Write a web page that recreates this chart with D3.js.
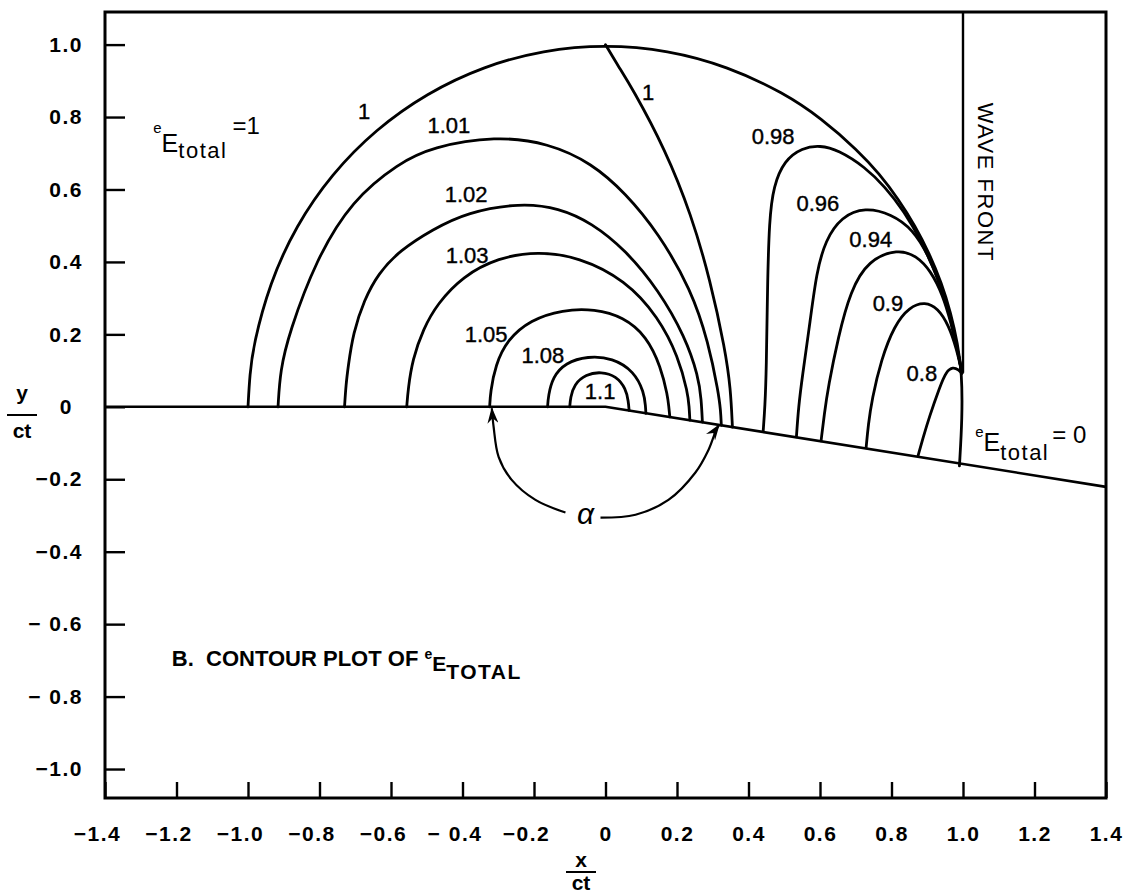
<!DOCTYPE html>
<html><head><meta charset="utf-8">
<script src="https://cdn.jsdelivr.net/npm/d3@7"></script>
<style>
html,body{margin:0;padding:0;background:#fff;}
svg{display:block;}
text{font-family:"Liberation Sans",Arial,Helvetica,sans-serif;fill:#000;}
</style></head><body>
<svg id="chart" width="1126" height="895"></svg>
<script>
// ---------- tick values and labels ----------
const xTickValues = [-1.4,-1.2,-1.0,-0.8,-0.6,-0.4,-0.2,0,0.2,0.4,0.6,0.8,1.0,1.2,1.4];
const xTickLabels = ["\u22121.4","\u22121.2","\u22121.0","\u22120.8","\u22120.6","\u2212 0.4","\u22120.2","0","0.2","0.4","0.6","0.8","1.0","1.2","1.4"];
const yTickValues = [1.0,0.8,0.6,0.4,0.2,0,-0.2,-0.4,-0.6,-0.8,-1.0];
const yTickLabels = ["1.0","0.8","0.6","0.4","0.2","0","\u22120.2","\u22120.4","\u2212 0.6","\u2212 0.8","\u22121.0"];

// ---------- contour lines (x/ct, y/ct) ----------
const outerArc = [[-1.0,0],[-0.995,0.09],[-0.985,0.17],[-0.94,0.34],[-0.866,0.5],[-0.766,0.643],[-0.643,0.766],[-0.5,0.866],[-0.342,0.94],[-0.174,0.985],[0,1.0],[0.174,0.985],[0.342,0.94],[0.5,0.866],[0.603,0.797],[0.707,0.707],[0.766,0.643],[0.819,0.574],[0.866,0.5],[0.906,0.423],[0.94,0.342],[0.966,0.259],[0.985,0.174],[0.997,0.094],[0.998,-0.03],[0.99,-0.163]];
const line100 = [[0,1.0],[0.036,0.94],[0.073,0.883],[0.168,0.709],[0.24,0.53],[0.293,0.35],[0.335,0.157],[0.35,0.05],[0.355,-0.056]];
const c101 = [[-0.916,0],[-0.91,0.1],[-0.885,0.204],[-0.810,0.406],[-0.709,0.571],[-0.578,0.673],[-0.486,0.717],[-0.307,0.748],[-0.159,0.728],[-0.039,0.673],[0.056,0.590],[0.148,0.480],[0.240,0.323],[0.288,0.177],[0.316,0.039],[0.322,-0.01],[0.324,-0.051]];
const c102 = [[-0.730,0],[-0.726,0.06],[-0.720,0.110],[-0.706,0.204],[-0.675,0.295],[-0.636,0.368],[-0.575,0.432],[-0.483,0.490],[-0.387,0.537],[-0.239,0.563],[-0.13,0.549],[-0.039,0.508],[0.056,0.433],[0.148,0.323],[0.223,0.193],[0.260,0.083],[0.268,0.02],[0.271,-0.042]];
const c103 = [[-0.556,0],[-0.552,0.05],[-0.540,0.130],[-0.510,0.215],[-0.470,0.285],[-0.400,0.360],[-0.300,0.412],[-0.190,0.429],[-0.075,0.414],[0.056,0.350],[0.148,0.248],[0.204,0.138],[0.230,0.039],[0.234,0.0],[0.236,-0.037]];
const c105 = [[-0.324,0],[-0.322,0.04],[-0.308,0.115],[-0.275,0.185],[-0.210,0.240],[-0.120,0.268],[-0.030,0.270],[0.050,0.248],[0.115,0.195],[0.155,0.110],[0.174,0.030],[0.177,0.0],[0.180,-0.028]];
const c108 = [[-0.162,0],[-0.160,0.03],[-0.148,0.082],[-0.112,0.122],[-0.050,0.140],[0.020,0.135],[0.080,0.098],[0.108,0.040],[0.112,0.0],[0.113,-0.018]];
const c110 = [[-0.100,0],[-0.098,0.025],[-0.088,0.062],[-0.055,0.090],[-0.012,0.097],[0.030,0.085],[0.057,0.050],[0.064,0.015],[0.066,-0.010]];
const c098 = [[0.441,-0.068],[0.446,0.0],[0.450,0.100],[0.453,0.331],[0.458,0.516],[0.470,0.610],[0.500,0.680],[0.550,0.715],[0.600,0.722],[0.651,0.709],[0.726,0.662],[0.782,0.607],[0.835,0.54],[0.885,0.455],[0.93,0.355],[0.962,0.26],[0.983,0.168],[0.997,0.094]];
const c096 = [[0.534,-0.083],[0.540,0.0],[0.550,0.080],[0.573,0.240],[0.590,0.370],[0.615,0.460],[0.660,0.525],[0.726,0.551],[0.80,0.532],[0.86,0.49],[0.905,0.415],[0.94,0.33],[0.965,0.245],[0.984,0.16],[0.997,0.094]];
const c094 = [[0.603,-0.094],[0.612,-0.02],[0.623,0.055],[0.651,0.193],[0.685,0.320],[0.735,0.405],[0.818,0.436],[0.87,0.417],[0.91,0.375],[0.943,0.31],[0.967,0.23],[0.985,0.155],[0.997,0.094]];
const c090 = [[0.729,-0.113],[0.735,-0.05],[0.745,0.020],[0.771,0.130],[0.808,0.225],[0.850,0.276],[0.894,0.290],[0.93,0.272],[0.96,0.225],[0.982,0.16],[0.997,0.094]];
const c080 = [[0.874,-0.136],[0.890,-0.08],[0.905,-0.03],[0.935,0.055],[0.953,0.098],[0.972,0.110],[0.988,0.102],[0.997,0.092]];

// boundary, wave front, alpha arc
const boundary = [[-1.4,0],[0,0],[1.4,-0.221]];
const waveFront = [[1.0,1.09],[1.0,0.094]];
const alphaLeft = [[-0.112,-0.292],[-0.196,-0.257],[-0.263,-0.201],[-0.299,-0.138],[-0.313,-0.055],[-0.318,-0.004]];
const alphaRight = [[-0.014,-0.306],[0.084,-0.298],[0.176,-0.257],[0.251,-0.182],[0.288,-0.119],[0.310,-0.063],[0.318,-0.050]];

// contour labels
const labelText = ["1","1.01","1.02","1.03","1.05","1.08","1.1","1","0.98","0.96","0.94","0.9","0.8"];
const labelX = [-0.675,-0.438,-0.390,-0.387,-0.334,-0.175,-0.015,0.119,0.469,0.594,0.742,0.790,0.885];
const labelY = [0.814,0.778,0.585,0.419,0.201,0.143,0.041,0.869,0.745,0.560,0.461,0.284,0.093];

// ---------- drawing ----------
const svg = d3.select("#chart");
const x = d3.scaleLinear().domain([-1.4,1.4]).range([105,1106]);
const y = d3.scaleLinear().domain([-1.08,1.09]).range([798,12]);

const smooth = d3.line().x(d=>x(d[0])).y(d=>y(d[1])).curve(d3.curveBasis);
const arcLine = d3.line().x(d=>x(d[0])).y(d=>y(d[1])).curve(d3.curveCatmullRom.alpha(0.5));
const straight = d3.line().x(d=>x(d[0])).y(d=>y(d[1]));

// arrow marker
svg.append("defs").append("marker")
  .attr("id","arrow").attr("viewBox","0 0 16 11").attr("refX",15).attr("refY",5.5)
  .attr("markerWidth",16).attr("markerHeight",11).attr("markerUnits","userSpaceOnUse")
  .attr("orient","auto")
  .append("path").attr("d","M0,0 L16,5.5 L0,11 L5,5.5 Z").attr("fill","#000");

const tickFont = "'Liberation Sans',Arial,sans-serif";
// axes
const xAxis = d3.axisBottom(x).tickValues(xTickValues).tickSize(-16).tickPadding(28)
  .tickFormat((d,i)=>xTickLabels[i]);
const gx = svg.append("g").attr("transform",`translate(0,${y(-1.08)})`).call(xAxis);
gx.select(".domain").remove();
gx.selectAll(".tick line").attr("stroke","#000").attr("stroke-width",2.4);
gx.selectAll(".tick text").attr("font-size",21).attr("font-weight","bold")
  .attr("letter-spacing","1.5px").attr("fill","#000").attr("font-family",tickFont)
  .attr("dx",d=>d<0?-8:0);

const yAxis = d3.axisLeft(y).tickValues(yTickValues).tickSize(-20).tickPadding(22)
  .tickFormat((d,i)=>yTickLabels[i]);
const gy = svg.append("g").attr("transform",`translate(${x(-1.4)},0)`).call(yAxis);
gy.select(".domain").remove();
gy.selectAll(".tick line").attr("stroke","#000").attr("stroke-width",2.4);
gy.selectAll(".tick text").attr("font-size",21).attr("font-weight","bold")
  .attr("letter-spacing","1.5px").attr("fill","#000").attr("font-family",tickFont)
  .attr("dx",d=>d===0?-10:0);

// frame
svg.append("rect").attr("x",x(-1.4)).attr("y",y(1.09))
  .attr("width",x(1.4)-x(-1.4)).attr("height",y(-1.08)-y(1.09))
  .attr("fill","none").attr("stroke","#000").attr("stroke-width",3);

// boundary and wave front
svg.append("path").attr("d",straight(boundary)).attr("fill","none").attr("stroke","#000").attr("stroke-width",2.6);
svg.append("path").attr("d",straight(waveFront)).attr("fill","none").attr("stroke","#000").attr("stroke-width",2.4);

// contours
const contours = [outerArc,line100,c101,c102,c103,c105,c108,c110,c098,c096,c094,c090,c080];
svg.append("g").selectAll("path").data(contours).join("path")
  .attr("d",smooth).attr("fill","none").attr("stroke","#000")
  .attr("stroke-width",2.8).attr("stroke-linejoin","round").attr("stroke-linecap","round");

// alpha arc
[alphaLeft,alphaRight].forEach(p=>{
  svg.append("path").attr("d",arcLine(p)).attr("fill","none").attr("stroke","#000")
    .attr("stroke-width",2.2).attr("marker-end","url(#arrow)");
});
svg.append("text").attr("x",x(-0.056)).attr("y",y(-0.294))
  .attr("text-anchor","middle").attr("dominant-baseline","central")
  .attr("font-family","'Liberation Serif','DejaVu Serif',serif").attr("font-style","italic")
  .attr("font-size",30).text("\u03b1");

// contour labels
svg.append("g").selectAll("text").data(labelText).join("text")
  .attr("x",(d,i)=>x(labelX[i])).attr("y",(d,i)=>y(labelY[i]))
  .attr("text-anchor","middle").attr("dominant-baseline","central")
  .attr("font-size",22).attr("stroke","#000").attr("stroke-width",0.4).text(d=>d);

// WAVE FRONT
svg.append("text")
  .attr("transform",`translate(${x(1.0)+22},${y(0.62)}) rotate(90)`)
  .attr("text-anchor","middle").attr("dominant-baseline","central")
  .attr("font-size",22).attr("letter-spacing","1.5px").text("WAVE FRONT");

// rich text helper
function rich(px, py, parts, weight){
  const t = svg.append("text").attr("x",px).attr("y",py)
    .attr("font-weight",weight||"normal").style("white-space","pre");
  let prev = 0;
  parts.forEach(p=>{
    t.append("tspan").attr("dy",p.shift-prev).attr("dx",p.dx||0)
      .attr("font-size",p.size).attr("letter-spacing",(p.ls||0)+"px").text(p.t);
    prev = p.shift;
  });
  return t;
}

// eE_total = 1
rich(x(-1.265), y(0.703), [
  {t:"e",size:15,shift:-19},
  {t:"E",size:25,shift:0},
  {t:"total",size:22,shift:6,ls:1.5},
  {t:"=1",size:24,shift:-18,dx:5}
]);
// eE_total = 0
rich(x(1.034), y(-0.122), [
  {t:"e",size:15,shift:-14},
  {t:"E",size:25,shift:0},
  {t:"total",size:22,shift:9,ls:1.5},
  {t:"= 0",size:24,shift:-8,dx:3}
]);
// caption
rich(x(-1.213), y(-0.715), [
  {t:"B.  CONTOUR PLOT OF ",size:22,shift:0},
  {t:"e",size:14,shift:-7},
  {t:"E",size:21,shift:5},
  {t:"TOTAL",size:21,shift:13,ls:1.5}
], "bold");

// axis titles
function frac(cx, topY, num, lineY, denY, x0, x1){
  svg.append("text").attr("x",cx).attr("y",topY).attr("text-anchor","middle")
    .attr("font-size",21).attr("font-weight","bold").text(num);
  svg.append("line").attr("x1",x0).attr("x2",x1).attr("y1",lineY).attr("y2",lineY)
    .attr("stroke","#000").attr("stroke-width",2);
  svg.append("text").attr("x",cx).attr("y",denY).attr("text-anchor","middle")
    .attr("font-size",21).attr("font-weight","bold").text("ct");
}
frac(22, 400, "y", 415, 438, 7, 37);
frac(581, 867, "x", 872, 890, 566, 596);
</script>
</body></html>
